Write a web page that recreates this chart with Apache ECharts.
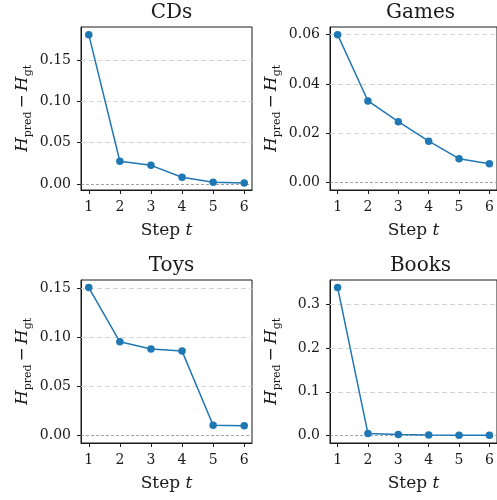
<!DOCTYPE html>
<html>
<head>
<meta charset="utf-8">
<script src="https://cdn.jsdelivr.net/npm/echarts@6/dist/echarts.min.js"></script>
<style>html,body{margin:0;padding:0;background:#fff}#c{width:497px;height:500px}</style>
</head>
<body>
<div id="c"></div>
<script>
const panelTitles = ['CDs', 'Games', 'Toys', 'Books'];
const steps = [1, 2, 3, 4, 5, 6];
const cdsValues   = [0.1810, 0.0275, 0.0226, 0.0081, 0.0020, 0.0012];
const gamesValues = [0.0600, 0.0331, 0.0247, 0.0168, 0.0097, 0.0076];
const toysValues  = [0.1503, 0.0953, 0.0879, 0.0858, 0.0105, 0.0101];
const booksValues = [0.3380, 0.0045, 0.0025, 0.0015, 0.0010, 0.0010];
const cdsTicks   = [0, 0.05, 0.10, 0.15];
const gamesTicks = [0, 0.02, 0.04, 0.06];
const toysTicks  = [0, 0.05, 0.10, 0.15];
const booksTicks = [0, 0.1, 0.2, 0.3];
const tickDecimals = [2, 2, 2, 1];
const yLimits = [[-0.0073, 0.1903], [-0.0030, 0.0631], [-0.0075, 0.1580], [-0.0169, 0.3549]];
const xLimits = [0.75, 6.25];

const allValues = [cdsValues, gamesValues, toysValues, booksValues];
const allTicks = [cdsTicks, gamesTicks, toysTicks, booksTicks];

const FONT = 'DejaVu Serif';
const INK = '#1a1a1a';
const BLUE = '#1f77b4';
const gridRects = [
  {left: 81, top: 27, width: 171, height: 163},
  {left: 330, top: 27, width: 171, height: 163},
  {left: 81, top: 280, width: 171, height: 163},
  {left: 330, top: 280, width: 171, height: 163}
];

const grids = [], xAxes = [], yAxes = [], series = [], titles = [];
gridRects.forEach((r, i) => {
  grids.push(Object.assign({show: true, borderColor: INK, borderWidth: 1, backgroundColor: 'transparent', containLabel: false}, r));
  titles.push({
    text: panelTitles[i], left: r.left + r.width / 2, top: r.top - 29, textAlign: 'center',
    textStyle: {fontFamily: FONT, fontSize: 20, fontWeight: 'normal', color: INK}
  });
  xAxes.push({
    type: 'value', gridIndex: i, min: xLimits[0], max: xLimits[1],
    axisLine: {show: true, onZero: false, lineStyle: {color: INK, width: 1}},
    axisTick: {show: true, inside: false, length: 4, customValues: steps, lineStyle: {color: INK, width: 1}},
    axisLabel: {show: true, customValues: steps, margin: 10, fontFamily: FONT, fontSize: 14, color: INK, formatter: v => String(v)},
    splitLine: {show: false},
    name: '{n|Step }{i|t}', nameLocation: 'middle', nameGap: 32,
    nameTextStyle: {rich: {
      n: {fontFamily: FONT, fontSize: 17, color: INK},
      i: {fontFamily: FONT, fontSize: 17, fontStyle: 'italic', color: INK}
    }}
  });
  const dec = tickDecimals[i];
  yAxes.push({
    type: 'value', gridIndex: i, min: yLimits[i][0], max: yLimits[i][1],
    axisLine: {show: true, onZero: false, lineStyle: {color: INK, width: 1}},
    axisTick: {show: true, inside: false, length: 4, customValues: allTicks[i], lineStyle: {color: INK, width: 1}},
    axisLabel: {show: true, customValues: allTicks[i], margin: 10, fontFamily: FONT, fontSize: 14, color: INK, formatter: v => v.toFixed(dec)},
    splitLine: {show: false},
    name: '{i|H}{s|pred}{n|−}{i|H}{s|gt}', nameLocation: 'middle', nameRotate: 90, nameGap: 47,
    nameTextStyle: {rich: {
      i: {fontFamily: FONT, fontSize: 17, fontStyle: 'italic', color: INK, lineHeight: 22},
      n: {fontFamily: FONT, fontSize: 17, color: INK, lineHeight: 22, padding: [0, 3, 0, 3]},
      s: {fontFamily: FONT, fontSize: 11, color: INK, verticalAlign: 'bottom', lineHeight: 13}
    }}
  });
  const gridLineData = allTicks[i].filter(t => t !== 0).map(t => ({yAxis: t}));
  series.push({
    type: 'line', xAxisIndex: i, yAxisIndex: i,
    data: steps.map((s, k) => [s, allValues[i][k]]),
    symbol: 'circle', symbolSize: 7.5, showSymbol: true,
    lineStyle: {color: BLUE, width: 1.5}, itemStyle: {color: BLUE},
    animation: false, z: 5,
    markLine: {
      silent: true, symbol: 'none', label: {show: false}, animation: false,
      data: gridLineData.map(d => Object.assign(d, {lineStyle: {color: '#d6d6d6', type: [5, 3], width: 1}}))
        .concat([{yAxis: 0, lineStyle: {color: '#8c8c8c', type: [3, 2], width: 0.8}}])
    }
  });
});

const chart = echarts.init(document.getElementById('c'), null, {renderer: 'canvas'});
chart.setOption({animation: false, title: titles, grid: grids, xAxis: xAxes, yAxis: yAxes, series: series});
</script>
</body>
</html>
